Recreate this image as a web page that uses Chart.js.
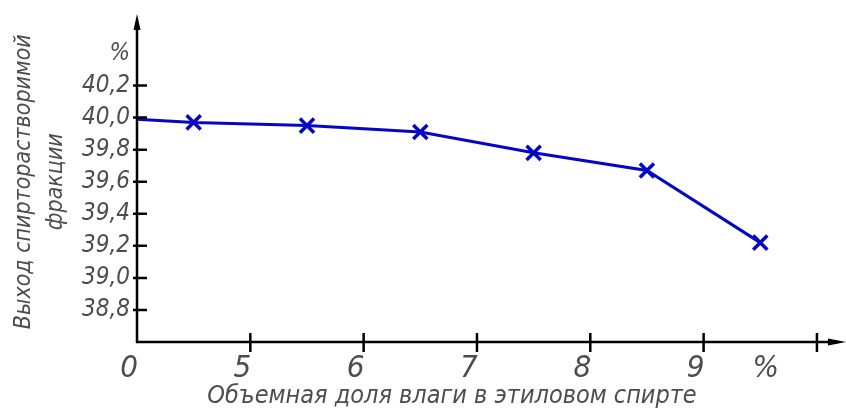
<!DOCTYPE html>
<html>
<head>
<meta charset="utf-8">
<script src="https://cdn.jsdelivr.net/npm/chart.js@4/dist/chart.umd.min.js"></script>
<style>
  html, body { margin: 0; padding: 0; background: #ffffff; }
  #wrap { width: 846px; height: 410px; position: relative; }
</style>
</head>
<body>
<div id="wrap"><canvas id="c"></canvas></div>
<script>
// ---- data ----
// x positions on the broken axis: 4 is the origin (labelled "0")
const moisture = [4, 4.5, 5.5, 6.5, 7.5, 8.5, 9.5];
const yieldPct = [39.99, 39.97, 39.95, 39.91, 39.78, 39.67, 39.22];
const markerRadius = [0, 10, 10, 10, 10, 10, 10];

const xTickValues = [4, 5, 6, 7, 8, 9, 10];
const xTickLabels = ['0', '5', '6', '7', '8', '9', ''];
const xUnitPos = 9.62;
const xUnitLabel = '%';

const yTickValues = [38.8, 39.0, 39.2, 39.4, 39.6, 39.8, 40.0, 40.2];
const yUnitPos = 40.4;
const yUnitLabel = '%';

const xTitle = 'Объемная доля влаги в этиловом спирте';
const yTitle = ['Выход спирторастворимой', 'фракции'];

const FONT = "'DejaVu Sans Condensed', 'DejaVu Sans', sans-serif";
const TEXT = '#4d4d4d';
const LINE = '#0505c8';

const axisPlugin = {
  id: 'axisDecor',
  afterDraw(chart) {
    const ctx = chart.ctx;
    const xs = chart.scales.x, ys = chart.scales.y;
    const x0 = xs.getPixelForValue(xs.min);
    const y0 = ys.getPixelForValue(ys.min);
    ctx.save();
    ctx.strokeStyle = '#000';
    ctx.fillStyle = '#000';
    ctx.lineWidth = 2.5;
    // axes
    ctx.beginPath();
    ctx.moveTo(x0, y0 + 1);
    ctx.lineTo(x0, 22);
    ctx.moveTo(x0 - 1, y0);
    ctx.lineTo(838, y0);
    ctx.stroke();
    // arrow heads
    ctx.beginPath();
    ctx.moveTo(x0, 14);
    ctx.lineTo(x0 - 3.5, 30);
    ctx.lineTo(x0 + 3.5, 30);
    ctx.closePath();
    ctx.fill();
    ctx.beginPath();
    ctx.moveTo(846, y0);
    ctx.lineTo(828, y0 - 3.5);
    ctx.lineTo(828, y0 + 3.5);
    ctx.closePath();
    ctx.fill();
    // crossing tick marks
    ctx.lineWidth = 2.5;
    ctx.beginPath();
    yTickValues.forEach(v => {
      const p = ys.getPixelForValue(v);
      ctx.moveTo(x0 - 4, p);
      ctx.lineTo(x0 + 10, p);
    });
    xTickValues.forEach(v => {
      if (v === xs.min) return;
      const p = xs.getPixelForValue(v);
      ctx.moveTo(p, y0 - 9);
      ctx.lineTo(p, y0 + 10);
    });
    ctx.stroke();
    // x axis title
    ctx.fillStyle = TEXT;
    ctx.font = 'italic 25px ' + FONT;
    ctx.textAlign = 'center';
    ctx.textBaseline = 'middle';
    ctx.fillText(xTitle, 452, 396);
    ctx.restore();
  }
};

new Chart(document.getElementById('c'), {
  type: 'line',
  data: {
    datasets: [{
      data: moisture.map((x, i) => ({ x: x, y: yieldPct[i] })),
      borderColor: LINE,
      backgroundColor: LINE,
      borderWidth: 3,
      pointStyle: 'crossRot',
      pointRadius: markerRadius,
      pointBorderWidth: 3.5,
      pointBorderColor: LINE,
      tension: 0,
      clip: false
    }]
  },
  options: {
    responsive: true,
    maintainAspectRatio: false,
    animation: false,
    events: [],
    layout: { padding: { top: 16, right: 3, left: 0, bottom: 0 }, autoPadding: false },
    plugins: { legend: { display: false }, tooltip: { enabled: false } },
    scales: {
      x: {
        type: 'linear',
        min: 4,
        max: 10.23,
        afterBuildTicks(s) {
          s.ticks = xTickValues.map(v => ({ value: v })).concat([{ value: xUnitPos }]);
        },
        afterFit(s) { s.height = 68; },
        grid: { display: true, drawOnChartArea: false, drawTicks: false, color: 'rgba(0,0,0,0)' },
        border: { display: false },
        ticks: {
          autoSkip: false,
          maxRotation: 0,
          padding: 8,
          labelOffset: -8,
          color: TEXT,
          font: { family: FONT, size: 31, style: 'italic' },
          callback(v) {
            if (v === xUnitPos) return xUnitLabel;
            const i = xTickValues.indexOf(v);
            return i >= 0 ? xTickLabels[i] : '';
          }
        }
      },
      y: {
        type: 'linear',
        min: 38.6,
        max: 40.6,
        afterBuildTicks(s) {
          s.ticks = yTickValues.map(v => ({ value: v })).concat([{ value: yUnitPos }]);
        },
        afterFit(s) { s.width = 137; },
        grid: { display: true, drawOnChartArea: false, drawTicks: false, color: 'rgba(0,0,0,0)' },
        border: { display: false },
        ticks: {
          autoSkip: false,
          padding: 7,
          color: TEXT,
          font: { family: FONT, size: 24, style: 'italic' },
          callback(v) {
            if (Math.abs(v - yUnitPos) < 1e-6) return yUnitLabel;
            return v.toFixed(1).replace('.', ',');
          }
        },
        title: {
          display: true,
          text: yTitle,
          color: TEXT,
          font: { family: FONT, size: 23, style: 'italic', lineHeight: 1.4 },
          padding: { top: 8, bottom: 0 }
        }
      }
    }
  },
  plugins: [axisPlugin]
});
</script>
</body>
</html>
